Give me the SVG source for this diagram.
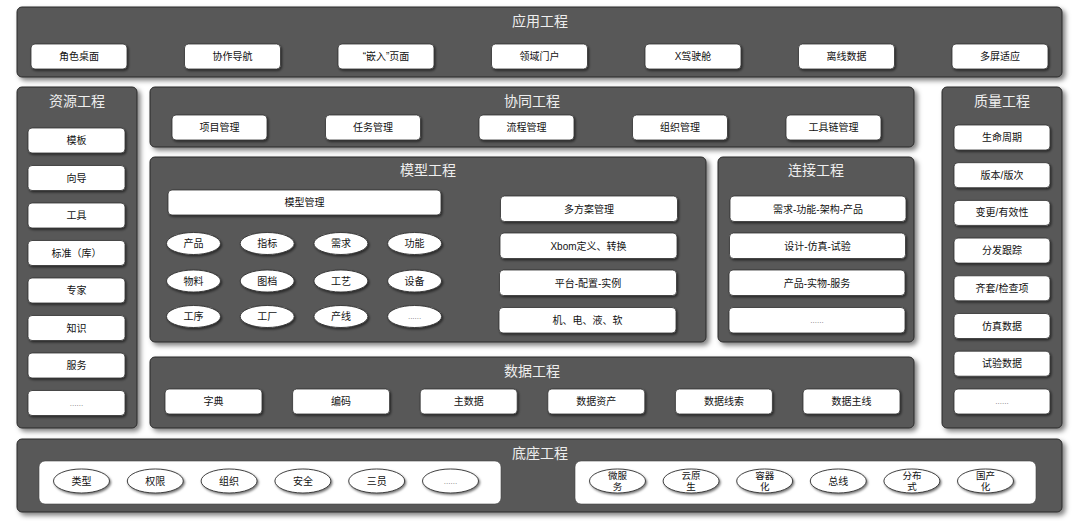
<svg xmlns="http://www.w3.org/2000/svg" width="1080" height="521" viewBox="0 0 1080 521">
<defs>
<filter id="sh" x="-10%" y="-10%" width="120%" height="130%">
<feDropShadow dx="3" dy="3" stdDeviation="2.5" flood-color="#000" flood-opacity="0.5"/>
</filter>
<filter id="sh2" x="-10%" y="-20%" width="125%" height="150%">
<feDropShadow dx="1.2" dy="1.5" stdDeviation="1" flood-color="#000" flood-opacity="0.55"/>
</filter>
</defs>
<style>
.panel{fill:#595959;stroke:#2a2a2a;stroke-width:1;filter:url(#sh)}
.box{fill:#fff;stroke:#2f2f2f;stroke-width:0.8;filter:url(#sh2)}
.base{fill:#fff;stroke:#444;stroke-width:0.6}
.ell{fill:#fff;stroke:#2f2f2f;stroke-width:0.9;filter:url(#sh2)}
text{font-family:"Liberation Sans","Noto Sans CJK SC",sans-serif;text-anchor:middle;dominant-baseline:central}
.t{font-size:10px;fill:#111}
.d{font-size:8px;fill:#777}
.pt{font-size:14px;fill:#eeeeee}
.s{font-size:9.5px;fill:#111}
</style>
<rect width="1080" height="521" fill="#ffffff"/>

<g id="app">
<rect class="panel" x="17" y="7" width="1045" height="70" rx="5"/>
<text class="pt" x="540" y="21">应用工程</text>
<rect class="box" x="31" y="44" width="96" height="25" rx="4"/><text class="t" x="79" y="56.5">角色桌面</text>
<rect class="box" x="184.5" y="44" width="96" height="25" rx="4"/><text class="t" x="232.5" y="56.5">协作导航</text>
<rect class="box" x="338" y="44" width="96" height="25" rx="4"/><text class="t" x="386" y="56.5">“嵌入”页面</text>
<rect class="box" x="491.5" y="44" width="96" height="25" rx="4"/><text class="t" x="539.5" y="56.5">领域门户</text>
<rect class="box" x="645" y="44" width="96" height="25" rx="4"/><text class="t" x="693" y="56.5">X驾驶舱</text>
<rect class="box" x="798.5" y="44" width="96" height="25" rx="4"/><text class="t" x="846.5" y="56.5">离线数据</text>
<rect class="box" x="952" y="44" width="96" height="25" rx="4"/><text class="t" x="1000" y="56.5">多屏适应</text>
</g>

<g id="resource">
<rect class="panel" x="17" y="87" width="120" height="341" rx="5"/>
<text class="pt" x="77" y="101">资源工程</text>
<rect class="box" x="28" y="128" width="97" height="25" rx="4"/><text class="t" x="76.5" y="140.5">模板</text>
<rect class="box" x="28" y="165.5" width="97" height="25" rx="4"/><text class="t" x="76.5" y="178">向导</text>
<rect class="box" x="28" y="203" width="97" height="25" rx="4"/><text class="t" x="76.5" y="215.5">工具</text>
<rect class="box" x="28" y="240.5" width="97" height="25" rx="4"/><text class="t" x="76.5" y="253">标准（库）</text>
<rect class="box" x="28" y="278" width="97" height="25" rx="4"/><text class="t" x="76.5" y="290.5">专家</text>
<rect class="box" x="28" y="315.5" width="97" height="25" rx="4"/><text class="t" x="76.5" y="328">知识</text>
<rect class="box" x="28" y="353" width="97" height="25" rx="4"/><text class="t" x="76.5" y="365.5">服务</text>
<rect class="box" x="28" y="390.5" width="97" height="25" rx="4"/><text class="d" x="76.5" y="403">......</text>
</g>

<g id="quality">
<rect class="panel" x="942" y="87" width="120" height="341" rx="5"/>
<text class="pt" x="1002" y="101">质量工程</text>
<rect class="box" x="954" y="125" width="96" height="25" rx="4"/><text class="t" x="1002" y="137.5">生命周期</text>
<rect class="box" x="954" y="162.7" width="96" height="25" rx="4"/><text class="t" x="1002" y="175.2">版本/版次</text>
<rect class="box" x="954" y="200.4" width="96" height="25" rx="4"/><text class="t" x="1002" y="212.9">变更/有效性</text>
<rect class="box" x="954" y="238.1" width="96" height="25" rx="4"/><text class="t" x="1002" y="250.6">分发跟踪</text>
<rect class="box" x="954" y="275.8" width="96" height="25" rx="4"/><text class="t" x="1002" y="288.3">齐套/检查项</text>
<rect class="box" x="954" y="313.5" width="96" height="25" rx="4"/><text class="t" x="1002" y="326">仿真数据</text>
<rect class="box" x="954" y="351.2" width="96" height="25" rx="4"/><text class="t" x="1002" y="363.7">试验数据</text>
<rect class="box" x="954" y="389" width="96" height="25" rx="4"/><text class="d" x="1002" y="401.5">......</text>
</g>

<g id="collab">
<rect class="panel" x="150" y="87" width="764" height="60" rx="5"/>
<text class="pt" x="532" y="101">协同工程</text>
<rect class="box" x="172" y="115" width="95" height="25" rx="4"/><text class="t" x="219.5" y="127.5">项目管理</text>
<rect class="box" x="325.5" y="115" width="95" height="25" rx="4"/><text class="t" x="373" y="127.5">任务管理</text>
<rect class="box" x="479" y="115" width="95" height="25" rx="4"/><text class="t" x="526.5" y="127.5">流程管理</text>
<rect class="box" x="632.5" y="115" width="95" height="25" rx="4"/><text class="t" x="680" y="127.5">组织管理</text>
<rect class="box" x="786" y="115" width="95" height="25" rx="4"/><text class="t" x="833.5" y="127.5">工具链管理</text>
</g>

<g id="model">
<rect class="panel" x="150" y="157" width="556" height="185" rx="5"/>
<text class="pt" x="428" y="170">模型工程</text>
<rect class="box" x="168" y="190" width="273" height="25" rx="4"/><text class="t" x="304.5" y="202.5">模型管理</text>
<ellipse class="ell" cx="193.5" cy="243.5" rx="27" ry="11"/><text class="t" x="193.5" y="243.5">产品</text>
<ellipse class="ell" cx="267.2" cy="243.5" rx="27" ry="11"/><text class="t" x="267.2" y="243.5">指标</text>
<ellipse class="ell" cx="340.9" cy="243.5" rx="27" ry="11"/><text class="t" x="340.9" y="243.5">需求</text>
<ellipse class="ell" cx="414.6" cy="243.5" rx="27" ry="11"/><text class="t" x="414.6" y="243.5">功能</text>
<ellipse class="ell" cx="193.5" cy="281" rx="27" ry="11"/><text class="t" x="193.5" y="281">物料</text>
<ellipse class="ell" cx="267.2" cy="281" rx="27" ry="11"/><text class="t" x="267.2" y="281">图档</text>
<ellipse class="ell" cx="340.9" cy="281" rx="27" ry="11"/><text class="t" x="340.9" y="281">工艺</text>
<ellipse class="ell" cx="414.6" cy="281" rx="27" ry="11"/><text class="t" x="414.6" y="281">设备</text>
<ellipse class="ell" cx="193.5" cy="316.5" rx="27" ry="11"/><text class="t" x="193.5" y="316.5">工序</text>
<ellipse class="ell" cx="267.2" cy="316.5" rx="27" ry="11"/><text class="t" x="267.2" y="316.5">工厂</text>
<ellipse class="ell" cx="340.9" cy="316.5" rx="27" ry="11"/><text class="t" x="340.9" y="316.5">产线</text>
<ellipse class="ell" cx="414.6" cy="316.5" rx="27" ry="11"/><text class="d" x="414.6" y="316.5">......</text>
<rect class="box" x="500.5" y="196" width="177" height="25.5" rx="4"/><text class="t" x="589" y="209">多方案管理</text>
<rect class="box" x="500" y="233" width="177" height="25.5" rx="4"/><text class="t" x="588.5" y="246">Xbom定义、转换</text>
<rect class="box" x="499.5" y="270" width="177" height="25.5" rx="4"/><text class="t" x="588" y="283">平台-配置-实例</text>
<rect class="box" x="499" y="307.5" width="177" height="25.5" rx="4"/><text class="t" x="587.5" y="320.5">机、电、液、软</text>
</g>

<g id="connect">
<rect class="panel" x="718" y="157" width="196" height="185" rx="5"/>
<text class="pt" x="816" y="170">连接工程</text>
<rect class="box" x="730" y="196" width="176" height="25.5" rx="4"/><text class="t" x="818" y="209">需求-功能-架构-产品</text>
<rect class="box" x="729.5" y="233" width="176" height="25.5" rx="4"/><text class="t" x="817.5" y="246">设计-仿真-试验</text>
<rect class="box" x="729" y="270" width="176" height="25.5" rx="4"/><text class="t" x="817" y="283">产品-实物-服务</text>
<rect class="box" x="729" y="307.5" width="176" height="25.5" rx="4"/><text class="d" x="817" y="320.5">......</text>
</g>

<g id="data">
<rect class="panel" x="150" y="357" width="764" height="71" rx="5"/>
<text class="pt" x="532" y="371">数据工程</text>
<rect class="box" x="165" y="389" width="97" height="25" rx="4"/><text class="t" x="213.5" y="401.5">字典</text>
<rect class="box" x="292.6" y="389" width="97" height="25" rx="4"/><text class="t" x="341.1" y="401.5">编码</text>
<rect class="box" x="420.2" y="389" width="97" height="25" rx="4"/><text class="t" x="468.7" y="401.5">主数据</text>
<rect class="box" x="547.8" y="389" width="97" height="25" rx="4"/><text class="t" x="596.3" y="401.5">数据资产</text>
<rect class="box" x="675.4" y="389" width="97" height="25" rx="4"/><text class="t" x="723.9" y="401.5">数据线索</text>
<rect class="box" x="803" y="389" width="97" height="25" rx="4"/><text class="t" x="851.5" y="401.5">数据主线</text>
</g>

<g id="base">
<rect class="panel" x="17" y="439" width="1045" height="73" rx="5"/>
<text class="pt" x="540" y="453">底座工程</text>
<rect class="base" x="39" y="461" width="462" height="43" rx="6"/>
<rect class="base" x="575" y="461" width="461" height="43" rx="6"/>
<ellipse class="ell" cx="81.5" cy="481" rx="28" ry="12"/><text class="t" x="81.5" y="481">类型</text>
<ellipse class="ell" cx="155.3" cy="481" rx="28" ry="12"/><text class="t" x="155.3" y="481">权限</text>
<ellipse class="ell" cx="229.1" cy="481" rx="28" ry="12"/><text class="t" x="229.1" y="481">组织</text>
<ellipse class="ell" cx="302.9" cy="481" rx="28" ry="12"/><text class="t" x="302.9" y="481">安全</text>
<ellipse class="ell" cx="376.7" cy="481" rx="28" ry="12"/><text class="t" x="376.7" y="481">三员</text>
<ellipse class="ell" cx="450.5" cy="481" rx="28" ry="12"/><text class="d" x="450.5" y="481">......</text>
<ellipse class="ell" cx="617.5" cy="481" rx="28" ry="12"/><text class="s" x="617.5" y="475.5">微服</text><text class="s" x="617.5" y="486.5">务</text>
<ellipse class="ell" cx="691.1" cy="481" rx="28" ry="12"/><text class="s" x="691.1" y="475.5">云原</text><text class="s" x="691.1" y="486.5">生</text>
<ellipse class="ell" cx="764.7" cy="481" rx="28" ry="12"/><text class="s" x="764.7" y="475.5">容器</text><text class="s" x="764.7" y="486.5">化</text>
<ellipse class="ell" cx="838.3" cy="481" rx="28" ry="12"/><text class="t" x="838.3" y="481">总线</text>
<ellipse class="ell" cx="911.9" cy="481" rx="28" ry="12"/><text class="s" x="911.9" y="475.5">分布</text><text class="s" x="911.9" y="486.5">式</text>
<ellipse class="ell" cx="985.5" cy="481" rx="28" ry="12"/><text class="s" x="985.5" y="475.5">国产</text><text class="s" x="985.5" y="486.5">化</text>
</g>
</svg>
